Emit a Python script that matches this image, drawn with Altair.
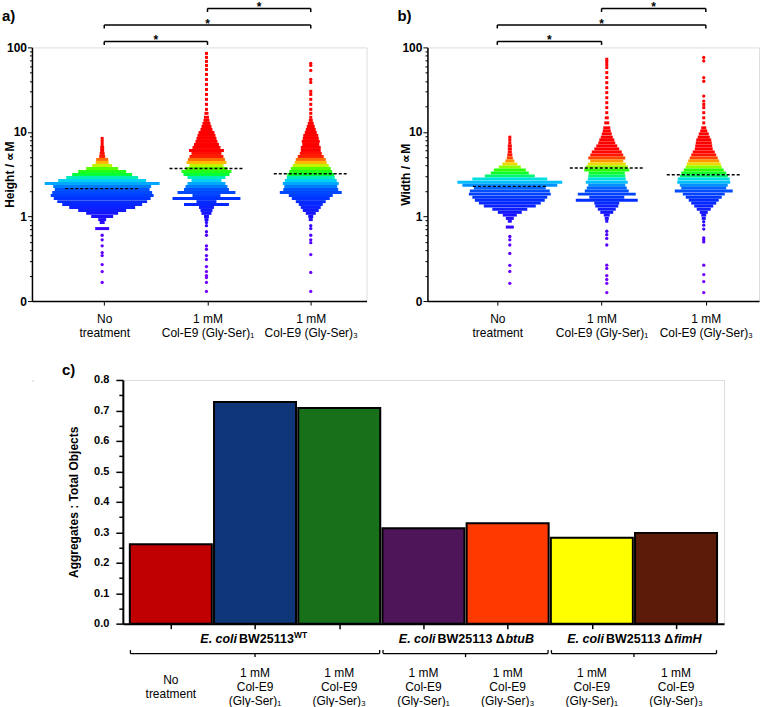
import json

import altair as alt
import pandas as pd

FONT = "Liberation Sans"

# ---------------------------------------------------------------- data
GROUP_LINES = [["No", "treatment"],
               ["1 mM", "Col-E9 (Gly-Ser)\u2081"],
               ["1 mM", "Col-E9 (Gly-Ser)\u2083"]]

# Each swarm is stored as stacked rows: a row value (µM) and the number of
# objects lying side by side in that row; sparse tails are single objects.
HEIGHT_ROW_VALUES = [
    [8.38, 7.72, 7.11, 6.56, 6.04, 5.57, 5.13, 4.73, 4.36, 4.01, 3.70, 3.41, 3.14, 2.89, 2.67,
     2.46, 2.26, 2.09, 1.92, 1.77, 1.63, 1.50, 1.39, 1.28, 1.18, 1.09, 1.00, 0.92, 0.85, 0.72],
    [84.9, 76.2, 68.3, 61.2, 54.9, 47.9, 41.8, 36.5, 31.8, 27.8, 24.3, 21.2,
     18.5, 16.6, 14.9, 13.7, 12.6, 11.6, 10.7, 9.86, 9.09, 8.38, 7.72, 7.11, 6.56, 6.04, 5.57,
     5.13, 4.73, 4.36, 4.01, 3.70, 3.41, 3.14, 2.89, 2.67, 2.46, 2.26, 2.09, 1.92, 1.77, 1.63,
     1.50, 1.39, 1.28, 1.18, 1.09, 1.00, 0.92],
    [30.2, 27.8, 24.3, 21.2, 18.5, 16.6, 14.9, 13.7, 12.6, 11.6, 10.7, 9.86, 9.09, 8.38, 7.72,
     7.11, 6.56, 6.04, 5.57, 5.13, 4.73, 4.36, 4.01, 3.70, 3.41, 3.14, 2.89, 2.67, 2.46, 2.26,
     2.09, 1.92, 1.77, 1.63, 1.50, 1.39, 1.28, 1.18, 1.09, 1.00, 0.92],
]
HEIGHT_ROW_COUNTS = [
    [3, 3, 3, 4, 4, 5, 6, 12, 13, 20, 32, 48, 60, 72, 88,
     115, 98, 95, 100, 103, 97, 90, 80, 66, 48, 32, 22, 8, 5, 14],
    [3, 3, 3, 3, 3, 3, 3, 3, 3, 3, 3, 3,
     3, 4, 5, 6, 8, 10, 12, 16, 18, 20, 22, 25, 28, 35, 30,
     34, 37, 40, 34, 42, 50, 46, 38, 30, 38, 42, 45, 58, 28, 68,
     20, 45, 15, 12, 10, 5, 4],
    [3, 3, 3, 3, 3, 3, 3, 4, 6, 8, 10, 12, 15, 16, 18,
     17, 20, 20, 22, 26, 30, 32, 36, 40, 43, 47, 48, 52, 56, 53,
     55, 62, 44, 38, 30, 24, 20, 16, 10, 5, 4],
]
HEIGHT_SINGLES = [
    [0.60, 0.53, 0.45, 0.375, 0.345, 0.27, 0.223, 0.166],
    [0.85, 0.78, 0.66, 0.60, 0.45, 0.41, 0.345, 0.31, 0.256, 0.223, 0.20, 0.19, 0.166, 0.13],
    [64.7, 61.2, 53.4, 41.8, 38.5, 0.78, 0.72, 0.60, 0.53, 0.49, 0.355, 0.218, 0.13],
]
HEIGHT_MEDIANS = [2.14, 3.70, 3.20]

WIDTH_ROW_VALUES = [
    [8.68, 8.06, 7.42, 6.84, 6.30, 5.80, 5.35, 4.92, 4.54, 4.18, 3.85, 3.55, 3.27, 3.01, 2.77,
     2.55, 2.35, 2.17, 2.00, 1.84, 1.69, 1.56, 1.44, 1.33, 1.22, 1.12, 1.04, 0.95, 0.88, 0.75],
    [72.4, 68.0, 62.7, 57.7, 50.3, 44.0, 38.3, 33.4, 29.2, 25.4, 22.2, 19.4, 16.9,
     14.7, 12.8, 11.2, 10.3, 9.49, 8.68, 8.06, 7.42, 6.84, 6.30, 5.80, 5.35, 4.92, 4.54, 4.18,
     3.85, 3.55, 3.27, 3.01, 2.77, 2.55, 2.35, 2.17, 2.00, 1.84, 1.69, 1.56, 1.44, 1.33, 1.22,
     1.12, 1.04, 0.95, 0.88],
    [21.2, 19.4, 16.9, 14.7, 12.8, 11.2, 10.3, 9.49, 8.68, 8.06, 7.42, 6.84, 6.30, 5.80, 5.35,
     4.92, 4.54, 4.18, 3.85, 3.55, 3.27, 3.01, 2.77, 2.55, 2.35, 2.17, 2.00, 1.84, 1.69, 1.56,
     1.44, 1.33, 1.22, 1.12, 1.04, 0.95],
]
WIDTH_ROW_COUNTS = [
    [3, 3, 3, 4, 4, 4, 5, 6, 9, 15, 22, 32, 38, 50, 75,
     105, 95, 72, 80, 82, 75, 70, 62, 52, 35, 24, 14, 8, 4, 8],
    [3, 3, 3, 3, 3, 3, 3, 3, 3, 3, 3, 3, 3,
     4, 5, 7, 8, 10, 12, 15, 17, 21, 25, 30, 33, 37, 33, 38,
     42, 45, 36, 37, 38, 42, 37, 40, 44, 58, 35, 62, 25, 23, 18,
     13, 6, 4, 3],
    [3, 3, 3, 3, 3, 5, 7, 10, 12, 15, 16, 17, 18, 22, 25,
     28, 31, 34, 36, 40, 45, 48, 52, 53, 48, 45, 58, 42, 36, 30,
     25, 19, 14, 8, 5, 4],
]
WIDTH_SINGLES = [
    [0.58, 0.53, 0.46, 0.366, 0.265, 0.224, 0.162],
    [0.67, 0.61, 0.55, 0.46, 0.266, 0.243, 0.20, 0.18, 0.162, 0.126],
    [75.9, 69.2, 44.0, 39.8, 26.6, 23.2, 0.87, 0.79, 0.71, 0.56, 0.53, 0.50,
     0.266, 0.206, 0.17, 0.126],
]
WIDTH_MEDIANS = [2.27, 3.75, 3.12]

# significance brackets: (group, group), all marked "*"
COMPARISONS = [(0, 1), (0, 2), (1, 2)]

BAR_CONDITIONS = ["No\ntreatment",
                  "1 mM\nCol-E9\n(Gly-Ser)\u2081", "1 mM\nCol-E9\n(Gly-Ser)\u2083",
                  "1 mM\nCol-E9\n(Gly-Ser)\u2081", "1 mM\nCol-E9\n(Gly-Ser)\u2083",
                  "1 mM\nCol-E9\n(Gly-Ser)\u2081", "1 mM\nCol-E9\n(Gly-Ser)\u2083"]
BAR_RATIOS = [0.261, 0.728, 0.708, 0.313, 0.330, 0.282, 0.298]
BAR_COLORS = ["#C00000", "#0F3678", "#18701A", "#4E1559", "#FF3A00", "#FFFF00", "#5C1A08"]

STRAIN_FIRST = [0, 3, 5]
STRAIN_LAST = [2, 4, 6]
STRAIN_SPECIES = ["E. coli", "E. coli", "E. coli"]
STRAIN_NAMES = ["BW25113", "BW25113 \u0394", "BW25113 \u0394"]
STRAIN_SUFFIX = ["WT", "btuB", "fimH"]

# ---------------------------------------------------------------- styling
COLOUR_STOPS = [0.15, 0.6, 1.0, 1.6, 2.1, 2.35, 2.6, 2.85, 3.1, 3.6, 3.95, 4.25, 4.6, 5.1, 6.0]
COLOUR_RANGE = ["#7a00ff", "#5000ff", "#1a10ff", "#0030ff", "#0055ff", "#0090ff", "#00c8ff",
                "#00e8d0", "#00ff40", "#30ff00", "#b0ff00", "#ffd000", "#ff8a00", "#ff2000",
                "#ff0000"]

SWARM_H = 254
DOT_PITCH = 1.0      # px per object along a row
MEDIAN_HALF = 37     # px
TIER_Y = [-6, -22.5, -39]
LINE_H = 14.3

LOG_TICKS = [round(m * 10.0 ** e, 6) for e in (-1, 0, 1) for m in range(1, 10)] + [100.0]
IS_DECADE = "abs(log(datum.value) / LN10 - round(log(datum.value) / LN10)) < 0.001"


def group_label_expr():
    expr = json.dumps(GROUP_LINES[-1], ensure_ascii=False)
    for g in range(len(GROUP_LINES) - 2, -1, -1):
        expr = f"datum.value == {g} ? {json.dumps(GROUP_LINES[g], ensure_ascii=False)} : ({expr})"
    return expr


def swarm_panel(tag, title, row_values, row_counts, singles, medians, shifts, width, x_domain):
    px_per_unit = width / (x_domain[1] - x_domain[0])
    rows, dots, meds = [], [], []
    for g in range(len(GROUP_LINES)):
        centre = g + shifts[g]
        for v, n in zip(row_values[g], row_counts[g]):
            half = n * DOT_PITCH / 2 / px_per_unit
            rows.append({"v": v, "x0": centre - half, "x1": centre + half})
        for v in singles[g]:
            dots.append({"v": v, "x": centre})
        half = MEDIAN_HALF / px_per_unit
        meds.append({"v": medians[g], "x0": centre - half, "x1": centre + half})

    xscale = alt.Scale(domain=x_domain, nice=False, zero=False)
    yscale = alt.Scale(type="log", domain=[0.1, 100], nice=False)
    colour = alt.Color("v:Q", legend=None,
                       scale=alt.Scale(type="log", domain=COLOUR_STOPS, range=COLOUR_RANGE,
                                       interpolate="rgb", clamp=True))
    xaxis = alt.Axis(values=[0, 1, 2], labelExpr=group_label_expr(), title=None, grid=False,
                     tickSize=4, tickColor="black", domainColor="black", domainWidth=1.5,
                     labelPadding=8, labelFont=FONT, labelFontSize=12, labelLineHeight=14,
                     labelColor="black", labelFlush=False, labelOverlap=False)
    yaxis = alt.Axis(values=LOG_TICKS, grid=False, title=title,
                     labelExpr=f"datum.value == 0.1 ? '0' : ({IS_DECADE} ? format(datum.value, 'd') : '')",
                     tickSize={"condition": {"test": IS_DECADE, "value": 4.5}, "value": 2.5},
                     tickColor="black", domainColor="black", domainWidth=1.5,
                     labelFont=FONT, labelFontSize=12, labelFontWeight="bold", labelColor="black",
                     labelPadding=1, labelFlush=False, labelOverlap=False,
                     titleFont=FONT, titleFontSize=12, titleFontWeight="bold", titleColor="black",
                     titleX=-22, titleY=SWARM_H / 2, titleBaseline="middle")

    layers = [
        alt.Chart(pd.DataFrame(rows)).mark_rule(strokeWidth=3, strokeCap="butt").encode(
            x=alt.X("x0:Q", scale=xscale, axis=xaxis), x2="x1:Q",
            y=alt.Y("v:Q", scale=yscale, axis=yaxis), color=colour),
        alt.Chart(pd.DataFrame(dots)).mark_circle(size=11, opacity=1).encode(
            x=alt.X("x:Q", scale=xscale, axis=xaxis),
            y=alt.Y("v:Q", scale=yscale, axis=yaxis), color=colour),
        alt.Chart(pd.DataFrame(meds)).mark_rule(color="black", strokeWidth=1.4,
                                                  strokeDash=[3, 2]).encode(
            x=alt.X("x0:Q", scale=xscale, axis=xaxis), x2="x1:Q",
            y=alt.Y("v:Q", scale=yscale, axis=yaxis)),
    ]

    for tier, (a, b) in enumerate(COMPARISONS):
        ty = TIER_Y[tier]
        br = pd.DataFrame({"lo": [a], "hi": [b], "mid": [(a + b) / 2], "sig": ["*"]})
        base = alt.Chart(br)
        layers += [
            base.mark_rule(color="black", strokeWidth=1.5).encode(
                x=alt.X("lo:Q", scale=xscale, axis=xaxis), x2="hi:Q", y=alt.value(ty)),
            base.transform_fold(["lo", "hi"], as_=["end", "xe"]).mark_rule(
                color="black", strokeWidth=1.5).encode(
                x=alt.X("xe:Q", scale=xscale, axis=xaxis), y=alt.value(ty), y2=alt.value(ty + 3.5)),
            base.mark_text(font=FONT, fontSize=12, fontWeight="bold", baseline="alphabetic",
                           color="black").encode(
                x=alt.X("mid:Q", scale=xscale, axis=xaxis), y=alt.value(ty + 3), text="sig:N"),
        ]

    layers.append(
        alt.Chart(pd.DataFrame({"t": [tag]})).mark_text(
            font=FONT, fontSize=15, fontWeight="bold", align="left", baseline="middle",
            color="black").encode(x=alt.value(-30), y=alt.value(-31), text="t:N"))
    return alt.layer(*layers).properties(width=width, height=SWARM_H)


panel_a = swarm_panel("a)", "Height / \u221dM", HEIGHT_ROW_VALUES, HEIGHT_ROW_COUNTS,
                      HEIGHT_SINGLES, HEIGHT_MEDIANS, [-0.02, -0.01, 0.0], 335, [-0.70, 2.54])
panel_b = swarm_panel("b)", "Width / \u221dM", WIDTH_ROW_VALUES, WIDTH_ROW_COUNTS,
                      WIDTH_SINGLES, WIDTH_MEDIANS, [0.12, 0.05, -0.02], 332, [-0.67, 2.51])

# ---------------------------------------------------------------- bar panel
BAR_W, BAR_H = 602, 244
BAR_HALF = 0.487
bx = alt.Scale(domain=[-0.57, 6.57], nice=False, zero=False)
by = alt.Scale(domain=[0, 0.8], nice=False)
bxaxis = alt.Axis(values=list(range(len(BAR_RATIOS))), labels=False, title=None, grid=False,
                  tickSize=5, tickWidth=1.5, tickColor="black", domainColor="black", domainWidth=2)
byaxis = alt.Axis(values=[round(i * 0.05, 2) for i in range(17)], grid=False,
                  title="Aggregates : Total Objects",
                  labelExpr="round(datum.value * 20) % 2 == 0 ? format(datum.value, '.1f') : ''",
                  tickSize={"condition": {"test": "round(datum.value * 20) % 2 == 0", "value": 7},
                            "value": 4},
                  tickColor="black", tickWidth=1.5, domainColor="black", domainWidth=2,
                  labelFont=FONT, labelFontSize=11, labelFontWeight="bold", labelColor="black",
                  labelPadding=7, labelFlush=False, labelOverlap=False,
                  titleFont=FONT, titleFontSize=12, titleFontWeight="bold", titleColor="black",
                  titleX=-49, titleY=BAR_H / 2, titleBaseline="middle")

bars = pd.DataFrame({"pos": list(range(len(BAR_RATIOS))), "ratio": BAR_RATIOS,
                     "colour": BAR_COLORS, "label": BAR_CONDITIONS})
bars["lo"] = bars["pos"] - BAR_HALF
bars["hi"] = bars["pos"] + BAR_HALF
bars["lines"] = bars["label"].str.count("\n") + 1

strains = pd.DataFrame({"first": STRAIN_FIRST, "last": STRAIN_LAST, "species": STRAIN_SPECIES,
                        "name": STRAIN_NAMES, "suffix": STRAIN_SUFFIX})
strains["lo"] = strains["first"] - 0.48
strains["hi"] = strains["last"] + 0.48
strains["mid"] = (strains["first"] + strains["last"]) / 2

bar_layers = [
    alt.Chart(bars).mark_bar(stroke="black", strokeWidth=2).encode(
        x=alt.X("lo:Q", scale=bx, axis=bxaxis), x2="hi:Q",
        y=alt.Y("ratio:Q", scale=by, axis=byaxis), y2=alt.datum(0),
        color=alt.Color("colour:N", scale=None)),
    alt.Chart(strains).mark_rule(color="black", strokeWidth=1.3).encode(
        x=alt.X("lo:Q", scale=bx, axis=bxaxis), x2="hi:Q", y=alt.value(BAR_H + 30)),
    alt.Chart(strains).transform_fold(["lo", "hi"], as_=["end", "xe"]).mark_rule(
        color="black", strokeWidth=1.3).encode(
        x=alt.X("xe:Q", scale=bx, axis=bxaxis), y=alt.value(BAR_H + 26.5), y2=alt.value(BAR_H + 30)),
    alt.Chart(strains).mark_rule(color="black", strokeWidth=1.3).encode(
        x=alt.X("mid:Q", scale=bx, axis=bxaxis), y=alt.value(BAR_H + 30), y2=alt.value(BAR_H + 33.5)),
]

# condition labels, each block centred on the same line
for n in sorted(bars["lines"].unique()):
    bar_layers.append(
        alt.Chart(bars[bars["lines"] == n]).mark_text(
            font=FONT, fontSize=12, lineBreak="\n", lineHeight=LINE_H, baseline="middle",
            align="center", color="black").encode(
            x=alt.X("pos:Q", scale=bx, axis=bxaxis),
            y=alt.value(BAR_H + 63.5 - (n - 1) / 2 * LINE_H), text="label:N"))

# strain names: italic species, bold strain, then superscript or italic gene
SPLIT_DX = [-16, -28, -28]
SUFFIX_DX = [39, 41, 41]
for i in range(len(STRAIN_FIRST)):
    one = alt.Chart(strains.iloc[[i]])
    sup = STRAIN_SUFFIX[i] == "WT"
    bar_layers += [
        one.mark_text(font=FONT, fontSize=12.5, fontWeight="bold", fontStyle="italic",
                      align="right", baseline="middle", dx=SPLIT_DX[i] - 2, color="black").encode(
            x=alt.X("mid:Q", scale=bx, axis=bxaxis), y=alt.value(BAR_H + 15.5), text="species:N"),
        one.mark_text(font=FONT, fontSize=12.5, fontWeight="bold", align="left",
                      baseline="middle", dx=SPLIT_DX[i], color="black").encode(
            x=alt.X("mid:Q", scale=bx, axis=bxaxis), y=alt.value(BAR_H + 15.5), text="name:N"),
        one.mark_text(font=FONT, fontSize=8.5 if sup else 12.5, fontWeight="bold",
                      fontStyle="normal" if sup else "italic", align="left", baseline="middle",
                      dx=SUFFIX_DX[i] if sup else SUFFIX_DX[i] - 1, dy=-4 if sup else 0,
                      color="black").encode(
            x=alt.X("mid:Q", scale=bx, axis=bxaxis), y=alt.value(BAR_H + 15.5), text="suffix:N"),
    ]

bar_layers.append(
    alt.Chart(pd.DataFrame({"t": ["c)"]})).mark_text(
        font=FONT, fontSize=15, fontWeight="bold", align="left", baseline="middle",
        color="black").encode(x=alt.value(-61), y=alt.value(-10), text="t:N"))

panel_c = alt.layer(*bar_layers).properties(width=BAR_W, height=BAR_H)

# an empty cell that sets the bar panel's indent under panel a
spacer = alt.Chart(pd.DataFrame({"s": [0]})).mark_point(opacity=0).encode(
    x=alt.value(0), y=alt.value(0)).properties(width=1, height=1)

top = alt.hconcat(panel_a, panel_b, spacing=61, bounds="flush")
bottom = alt.hconcat(spacer, panel_c, spacing=90, bounds="flush")

chart = alt.vconcat(top, bottom, spacing=23).properties(
    padding={"left": 1, "top": 0, "right": 0, "bottom": 0}
).configure_view(stroke=None).configure(font=FONT)

chart.save("out.html", embed_options={"renderer": "svg", "actions": False})
